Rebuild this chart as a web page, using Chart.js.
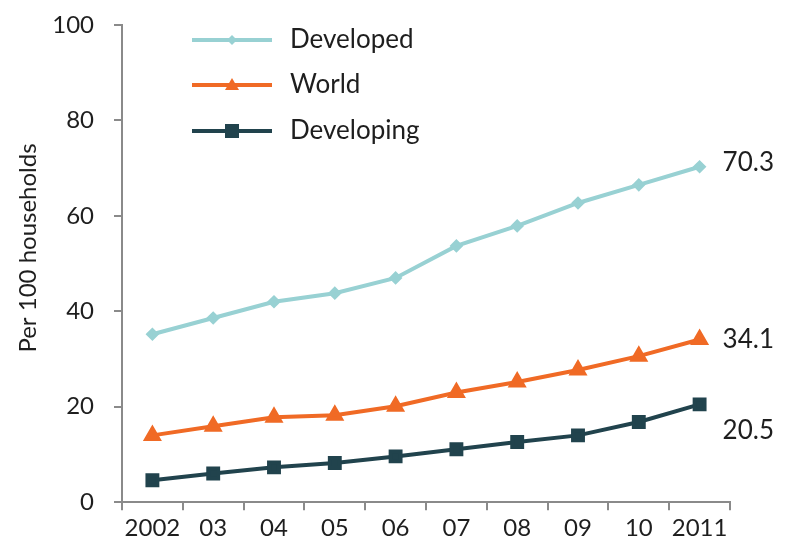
<!DOCTYPE html>
<html><head><meta charset="utf-8">
<script src="https://cdn.jsdelivr.net/npm/chart.js@4"></script>
<style>html,body{margin:0;padding:0;background:#fff}#wrap{width:786px;height:553px}</style>
</head><body><div id="wrap"><canvas id="c" width="786" height="553"></canvas></div>
<script>
const categories = ["2002","03","04","05","06","07","08","09","10","2011"];
const developed  = [35.2, 38.6, 42.0, 43.8, 47.0, 53.7, 57.9, 62.7, 66.5, 70.3];
const world      = [14.0, 15.9, 17.8, 18.2, 20.1, 23.0, 25.2, 27.7, 30.6, 34.1];
const developing = [4.6, 6.0, 7.3, 8.2, 9.6, 11.1, 12.6, 14.0, 16.8, 20.5];
const endLabels  = ["70.3", "34.1", "20.5"];
const yTicks = [0, 20, 40, 60, 80, 100];
const yTitle = "Per 100 households";

const FONT = "Lato, 'Open Sans', sans-serif";
const TXT = '#1e1e1e';
const END_DY = [-4, 0, 26];

const overlay = {
  id: 'overlay',
  afterDatasetsDraw(chart) {
    const ctx = chart.ctx;
    ctx.save();
    // y title
    ctx.save();
    ctx.translate(28, 248);
    ctx.rotate(-Math.PI / 2);
    ctx.fillStyle = TXT;
    ctx.font = "24px " + FONT;
    ctx.textAlign = 'center';
    ctx.textBaseline = 'middle';
    ctx.fillText(yTitle, 0, 0);
    ctx.restore();
    // end labels
    chart.data.datasets.forEach((ds, i) => {
      const meta = chart.getDatasetMeta(i);
      const pt = meta.data[meta.data.length - 1];
      ctx.fillStyle = TXT;
      ctx.font = "26px " + FONT;
      ctx.textAlign = 'left';
      ctx.textBaseline = 'middle';
      ctx.fillText(endLabels[i], pt.x + 23, pt.y + END_DY[i]);
    });
    // legend
    const lx0 = 192, lx1 = 272, tx = 290, rows = [40, 85, 131];
    chart.data.datasets.forEach((ds, i) => {
      const y = rows[i];
      ctx.strokeStyle = ds.borderColor;
      ctx.lineWidth = ds.borderWidth;
      ctx.beginPath(); ctx.moveTo(lx0, y); ctx.lineTo(lx1, y); ctx.stroke();
      const cx = (lx0 + lx1) / 2;
      ctx.fillStyle = ds.pointBackgroundColor;
      ctx.beginPath();
      if (ds.pointStyle === 'triangle') {
        const r = ds.pointRadius;
        ctx.moveTo(cx, y - r); ctx.lineTo(cx + r, y + r * 0.7); ctx.lineTo(cx - r, y + r * 0.7); ctx.closePath();
      } else if (ds.pointStyle === 'rect') {
        const r = ds.pointRadius;
        ctx.rect(cx - r, y - r, 2 * r, 2 * r);
      } else {
        const r = ds.pointRadius + 1;
        ctx.moveTo(cx, y - r); ctx.lineTo(cx + r, y); ctx.lineTo(cx, y + r); ctx.lineTo(cx - r, y); ctx.closePath();
      }
      ctx.fill();
      ctx.fillStyle = TXT;
      ctx.font = "26px " + FONT;
      ctx.textAlign = 'left';
      ctx.textBaseline = 'middle';
      ctx.fillText(ds.label, tx, y);
    });
    ctx.restore();
  }
};

new Chart(document.getElementById('c'), {
  type: 'line',
  data: {
    labels: categories,
    datasets: [
      { label: 'Developed', data: developed, borderColor: '#98d1d3', backgroundColor: '#98d1d3',
        pointBackgroundColor: '#98d1d3', pointBorderColor: '#98d1d3', pointStyle: 'rectRot', pointRadius: 4,
        borderWidth: 4, tension: 0 },
      { label: 'World', data: world, borderColor: '#f06a25', backgroundColor: '#f06a25',
        pointBackgroundColor: '#f06a25', pointBorderColor: '#f06a25', pointStyle: 'triangle', pointRadius: 7,
        borderWidth: 4, tension: 0 },
      { label: 'Developing', data: developing, borderColor: '#21434d', backgroundColor: '#21434d',
        pointBackgroundColor: '#21434d', pointBorderColor: '#21434d', pointStyle: 'rect', pointRadius: 7,
        borderWidth: 4, tension: 0 }
    ]
  },
  options: {
    responsive: false,
    animation: false,
    layout: { padding: { left: 0, right: 56, top: 25, bottom: 6 } },
    plugins: { legend: { display: false }, tooltip: { enabled: false } },
    scales: {
      x: {
        type: 'category',
        offset: true,
        grid: { offset: true, drawOnChartArea: false, drawTicks: true, tickLength: 8, color: '#8a8a8a', lineWidth: 2 },
        border: { color: '#8a8a8a', width: 2 },
        ticks: { color: TXT, font: { family: FONT, size: 24 }, padding: 4, maxRotation: 0, autoSkip: false }
      },
      y: {
        min: 0, max: 100,
        afterBuildTicks(axis) { axis.ticks = yTicks.map(v => ({ value: v })); },
        afterFit(axis) { axis.width = 122; axis.paddingTop = 0; axis.paddingBottom = 0; },
        grid: { drawOnChartArea: false, drawTicks: true, tickLength: 8, color: '#8a8a8a', lineWidth: 2 },
        border: { color: '#8a8a8a', width: 2 },
        ticks: { color: TXT, font: { family: FONT, size: 24 }, padding: 20 }
      }
    }
  },
  plugins: [overlay]
});
</script>
</body></html>
